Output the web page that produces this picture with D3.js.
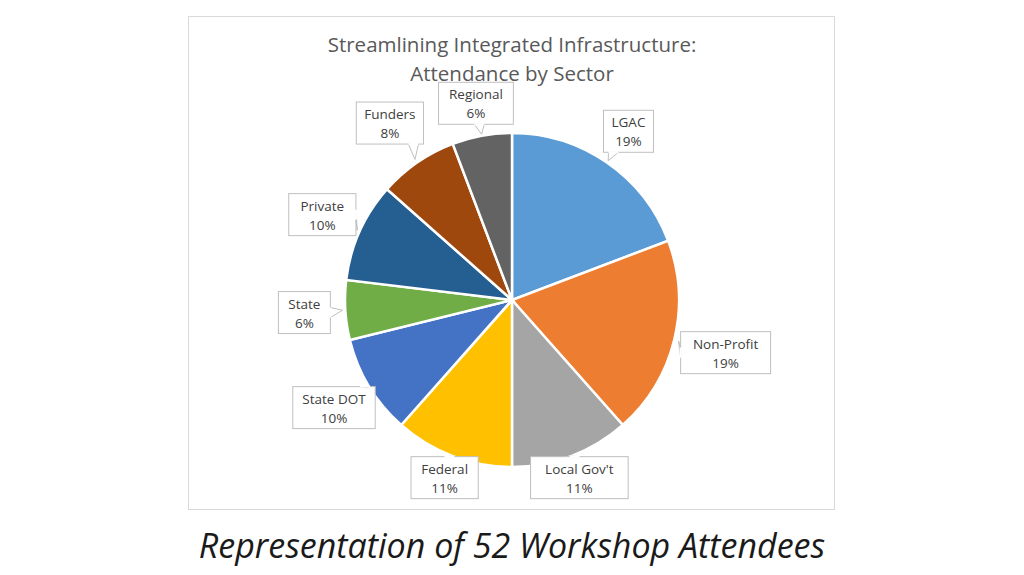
<!DOCTYPE html><html><head><meta charset="utf-8">
<script src="https://cdn.jsdelivr.net/npm/d3@7"></script>
<style>body{margin:0;background:#fff}text{font-family:"Open Sans",sans-serif}</style></head><body>
<svg id="c" width="1024" height="575"></svg>
<script>
const categories=["LGAC","Non-Profit","Local Gov't","Federal","State DOT","State","Private","Funders","Regional"];
const values=[10,10,6,6,5,3,5,4,3];
const pctLabels=["19%","19%","11%","11%","10%","6%","10%","8%","6%"];
const colors=["#5b9bd5","#ed7d31","#a5a5a5","#ffc000","#4472c4","#70ad47","#255e91","#9e480e","#636363"];
const labelDist=[205,220,190,190,208,208,208,215,200];
const svg=d3.select("#c");
svg.append("rect").attr("x",188.5).attr("y",16.5).attr("width",646).attr("height",493).attr("fill","#fff").attr("stroke","#d9d9d9");
svg.append("text").attr("x",512).attr("y",52).attr("text-anchor","middle").attr("font-size",20.5).attr("fill","#595959").text("Streamlining Integrated Infrastructure:");
svg.append("text").attr("x",512).attr("y",81).attr("text-anchor","middle").attr("font-size",20.5).attr("fill","#595959").text("Attendance by Sector");
const cx=512,cy=300,r=167;
const g=svg.append("g").attr("transform",`translate(${cx},${cy})`);
const arcs=d3.pie().sort(null)(values);
const arc=d3.arc().innerRadius(0).outerRadius(r);
g.selectAll("path.s").data(arcs).join("path").attr("d",arc).attr("fill",(d,i)=>colors[i]).attr("stroke","#fff").attr("stroke-width",2.5);
arcs.forEach((d,i)=>{
  const a=(d.startAngle+d.endAngle)/2;
  const L=labelDist[i];
  const bx=Math.sin(a)*L, by=-Math.cos(a)*L;
  const w=Math.max(categories[i].length*7.6+14,50), h=42;
  const px=Math.sin(a)*(r-4), py=-Math.cos(a)*(r-4);
  const dx=px-bx, dy=py-by;
  let ex,ey,b1,b2;
  if(Math.abs(dx)/(w/2)>Math.abs(dy)/(h/2)){ex=bx+Math.sign(dx)*w/2;ey=by;b1=[ex,ey-5];b2=[ex,ey+5];}
  else{ex=bx+(Math.abs(dx)<w/2-12?dx*0.5:Math.sign(dx)*(w/2-10));ey=by+Math.sign(dy)*h/2;b1=[ex-5,ey];b2=[ex+5,ey];}
  const tip=[bx+(px-bx)*0.85,by+(py-by)*0.85];
  const lg=g.append("g");
  lg.append("rect").attr("x",bx-w/2).attr("y",by-h/2).attr("width",w).attr("height",h).attr("fill","#fff").attr("stroke","#bfbfbf");
  lg.append("path").attr("d",`M${b1}L${tip}L${b2}`).attr("fill","#fff").attr("stroke","#bfbfbf");
  lg.append("line").attr("x1",b1[0]).attr("y1",b1[1]).attr("x2",b2[0]).attr("y2",b2[1]).attr("stroke","#fff").attr("stroke-width",2);
  lg.append("text").attr("x",bx).attr("y",by-4).attr("text-anchor","middle").attr("font-size",13.5).attr("fill","#404040").text(categories[i]);
  lg.append("text").attr("x",bx).attr("y",by+15).attr("text-anchor","middle").attr("font-size",13.5).attr("fill","#404040").text(pctLabels[i]);
});
svg.append("text").attr("x",512).attr("y",558).attr("text-anchor","middle").attr("font-size",34).attr("font-style","italic").attr("fill","#1a1a1a").text("Representation of 52 Workshop Attendees");
</script></body></html>
